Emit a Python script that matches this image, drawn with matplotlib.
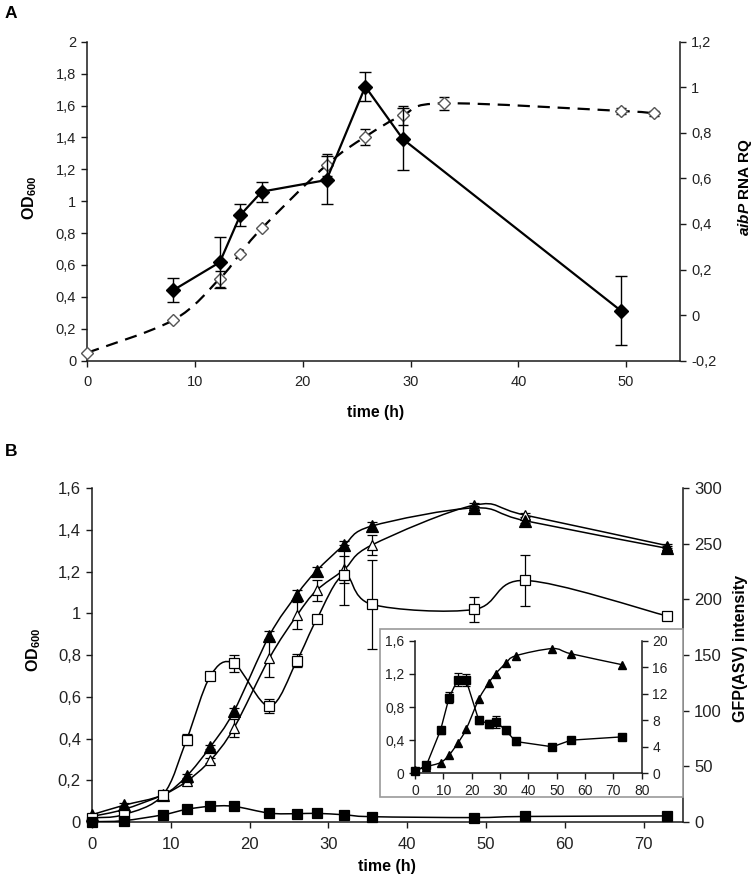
import numpy as np
import matplotlib
matplotlib.use('Agg')
import matplotlib.pyplot as plt
from matplotlib.path import Path
from matplotlib.patches import PathPatch, Rectangle
from matplotlib.ticker import FuncFormatter

plt.rcParams['font.family'] = ['Liberation Sans', 'DejaVu Sans']
plt.rcParams['mathtext.fontset'] = 'custom'
plt.rcParams['mathtext.rm'] = 'Liberation Sans'
plt.rcParams['mathtext.it'] = 'Liberation Sans:italic'
plt.rcParams['mathtext.bf'] = 'Liberation Sans:bold'
plt.rcParams['mathtext.bfit'] = 'Liberation Sans:italic:bold'

# ---------------- Panel A data ----------------
a_time_od = [0, 8, 12.3, 14.2, 16.2, 22.2, 25.8, 29.3, 33.1, 49.5, 52.6]
a_od = [0.05, 0.255, 0.515, 0.672, 0.83, 1.227, 1.404, 1.54, 1.614, 1.566, 1.551]
a_od_err = [0, 0, 0.05, 0, 0, 0.07, 0.05, 0.06, 0.04, 0.02, 0.015]

a_time_rq = [8, 12.3, 14.2, 16.2, 22.2, 25.8, 29.3, 49.5]
a_rq = [0.11, 0.232, 0.439, 0.542, 0.593, 1.003, 0.772, 0.02]
a_rq_err = [0.051, 0.113, 0.05, 0.044, 0.107, 0.062, 0.135, 0.15]

# ---------------- Panel B data ----------------
b_time = [0, 4, 9, 12, 15, 18, 22.5, 26, 28.5, 32, 35.5, 48.5, 55, 73]
od_filled = [0.035, 0.08, 0.13, 0.22, 0.36, 0.53, 0.893, 1.09, 1.204, 1.327, 1.418, 1.505, 1.443, 1.311]
od_filled_err = [0.005, 0.01, 0.01, 0.01, 0.01, 0.015, 0.02, 0.02, 0.02, 0.02, 0.02, 0.01, 0.01, 0.01]
od_open = [0.027, 0.06, 0.13, 0.195, 0.295, 0.45, 0.785, 0.99, 1.11, 1.21, 1.327, 1.518, 1.47, 1.324]
od_open_err = [0.005, 0.01, 0.01, 0.01, 0.01, 0.045, 0.09, 0.065, 0.05, 0.065, 0.05, 0.01, 0.01, 0.01]
gfp_open = [3.8, 6.6, 24.4, 74, 131, 142.5, 104, 145, 182, 222, 195.5, 191, 217, 185]
gfp_open_err = [1, 1, 2, 5, 2, 7.5, 6.5, 6, 2, 27, 40, 11.5, 23, 3]
gfp_filled = [0.3, 1.2, 6.5, 11.4, 14.1, 14.1, 8.0, 7.5, 7.8, 6.5, 4.8, 4.0, 5.0, 5.5]
gfp_filled_err = [0.2, 0.3, 0.5, 0.8, 1.0, 0.9, 0.5, 0.6, 0.9, 0.5, 0.5, 0.3, 0.4, 0.4]

a_left_ticks = [0, 0.2, 0.4, 0.6, 0.8, 1, 1.2, 1.4, 1.6, 1.8, 2]
a_right_ticks = [-0.2, 0, 0.2, 0.4, 0.6, 0.8, 1, 1.2]
b_left_ticks = [0, 0.2, 0.4, 0.6, 0.8, 1, 1.2, 1.4, 1.6]
b_right_ticks = [0, 50, 100, 150, 200, 250, 300]
in_left_ticks = [0, 0.4, 0.8, 1.2, 1.6]
in_right_ticks = [0, 4, 8, 12, 16, 20]

INK = '#1a1a1a'
W, H = 755.0, 884.0


def comma(v, pos=None):
    s = ('%.2f' % v).rstrip('0').rstrip('.')
    if s in ('-0', ''):
        s = '0'
    return s.replace('.', ',')


def smooth_path(x, y):
    pts = np.column_stack([x, y]).astype(float)
    n = len(pts)
    verts = [pts[0]]
    codes = [Path.MOVETO]
    for i in range(n - 1):
        p0 = pts[i - 1] if i > 0 else pts[i]
        p1 = pts[i]
        p2 = pts[i + 1]
        p3 = pts[i + 2] if i + 2 < n else pts[i + 1]
        c1 = p1 + (p2 - p0) / 6.0
        c2 = p2 - (p3 - p1) / 6.0
        verts += [c1, c2, p2]
        codes += [Path.CURVE4] * 3
    return Path(verts, codes)


def style_axes(ax, side, fs):
    for s in ax.spines.values():
        s.set_visible(False)
    ax.spines['bottom'].set_visible(side == 'left')
    ax.spines[side].set_visible(True)
    for s in ax.spines.values():
        s.set_color(INK)
        s.set_linewidth(1.1)
    ax.tick_params(direction='out', length=4.5, width=1.0, colors=INK,
                   labelsize=fs, labelcolor='#222222')
    ax.patch.set_visible(False)


def ftext(x, y, s, **kw):
    fig.text(x / W, 1 - y / H, s, ha='center', va='center', **kw)


fig = plt.figure(figsize=(7.55, 8.84), dpi=100)

# ================= Panel A =================
FSA = 10.5
axA = fig.add_axes([0.1156, 0.592, 0.785, 0.3608])
axA2 = axA.twinx()
style_axes(axA, 'left', FSA)
style_axes(axA2, 'right', FSA)
axA2.tick_params(axis='x', bottom=False, labelbottom=False)

axA.set_xlim(0, 55)
axA.set_ylim(0, 2)
axA2.set_ylim(-0.2, 1.2)
axA.set_xticks([0, 10, 20, 30, 40, 50])
axA.set_yticks(a_left_ticks)
axA2.set_yticks(a_right_ticks)
axA.yaxis.set_major_formatter(FuncFormatter(comma))
axA2.yaxis.set_major_formatter(FuncFormatter(comma))
axA.tick_params(axis='x', pad=6)

pA = PathPatch(smooth_path(a_time_od, a_od), fill=False, edgecolor='black',
               lw=1.6, linestyle=(0, (5.5, 3.5)), zorder=2)
axA.add_patch(pA)
axA.errorbar(a_time_od, a_od, yerr=a_od_err, fmt='D', ms=6.5, mfc='white',
             mec='#555555', mew=1.0, ecolor='black', elinewidth=0.9,
             capsize=3.5, capthick=0.9, zorder=3, clip_on=False)

axA2.errorbar(a_time_rq, a_rq, yerr=a_rq_err, fmt='-D', color='black', lw=1.6,
              ms=7.5, mfc='black', mec='black', ecolor='black', elinewidth=1.0,
              capsize=4, capthick=1.0, zorder=3)

ftext(376, 413, 'time (h)', fontsize=11.3, fontweight='bold')
ftext(30, 198, r'OD$_{\mathbf{600}}$', fontsize=11.5, fontweight='bold', rotation=90)
ftext(745, 187, r'$\mathbfit{aibP}$ RNA RQ', fontsize=11, fontweight='bold', rotation=90)
ftext(11, 13, 'A', fontsize=12.5, fontweight='bold')

# ================= Panel B =================
FSB = 12
axB = fig.add_axes([0.1219, 0.0701, 0.7828, 0.3778])
axB2 = axB.twinx()
style_axes(axB, 'left', FSB)
style_axes(axB2, 'right', FSB)
axB2.tick_params(axis='x', bottom=False, labelbottom=False)

axB.set_xlim(0, 75)
axB.set_ylim(0, 1.6)
axB2.set_ylim(0, 300)
axB.set_xticks([0, 10, 20, 30, 40, 50, 60, 70])
axB.set_yticks(b_left_ticks)
axB2.set_yticks(b_right_ticks)
axB.yaxis.set_major_formatter(FuncFormatter(comma))
axB.tick_params(axis='x', pad=6)

lw_b = 1.1
for yv, ye, ax_, mk, mfc, ms in [
        (od_open, od_open_err, axB, '^', 'white', 7.5),
        (od_filled, od_filled_err, axB, '^', 'black', 8),
        (gfp_open, gfp_open_err, axB2, 's', 'white', 7),
        (gfp_filled, gfp_filled_err, axB2, 's', 'black', 7)]:
    ax_.add_patch(PathPatch(smooth_path(b_time, yv), fill=False,
                            edgecolor='black', lw=lw_b, zorder=2))
    ax_.errorbar(b_time, yv, yerr=ye, fmt=mk, ms=ms, mfc=mfc, mec='black',
                 mew=0.9, ecolor='black', elinewidth=0.9, capsize=3.5,
                 capthick=0.9, zorder=3, clip_on=False)

ftext(387, 867, 'time (h)', fontsize=11.5, fontweight='bold')
ftext(34, 650, r'OD$_{\mathbf{600}}$', fontsize=11.5, fontweight='bold', rotation=90)
ftext(741, 648, 'GFP(ASV) intensity', fontsize=11.5, fontweight='bold', rotation=90)
ftext(11, 452, 'B', fontsize=12.5, fontweight='bold')

# ================= Inset =================
FSI = 10
box = Rectangle((0.503, 0.0984), 0.402, 0.1901, transform=fig.transFigure,
                facecolor='white', edgecolor='#9a9a9a', lw=1.2, zorder=5)
fig.patches.append(box)

axI = fig.add_axes([0.5497, 0.1252, 0.3003, 0.15])
axI.set_zorder(6)
axI2 = axI.twinx()
axI2.set_zorder(7)
style_axes(axI, 'left', FSI)
style_axes(axI2, 'right', FSI)
axI2.tick_params(axis='x', bottom=False, labelbottom=False)
for a in (axI, axI2):
    a.tick_params(length=4)
axI.set_xlim(0, 80)
axI.set_ylim(0, 1.6)
axI2.set_ylim(0, 20)
axI.set_xticks(list(range(0, 81, 10)))
axI.set_yticks(in_left_ticks)
axI2.set_yticks(in_right_ticks)
axI.yaxis.set_major_formatter(FuncFormatter(comma))
axI.tick_params(axis='x', pad=4)

axI.add_patch(PathPatch(smooth_path(b_time, od_filled), fill=False,
                        edgecolor='black', lw=1.0, zorder=2))
axI.plot(b_time, od_filled, '^', ms=6, color='black', zorder=3, clip_on=False)
axI2.errorbar(b_time, gfp_filled, yerr=gfp_filled_err, fmt='-s', color='black',
              lw=1.0, ms=6, mfc='black', ecolor='black', elinewidth=0.9,
              capsize=3, capthick=0.9, zorder=3, clip_on=False)

fig.savefig('out.png', dpi=100)
